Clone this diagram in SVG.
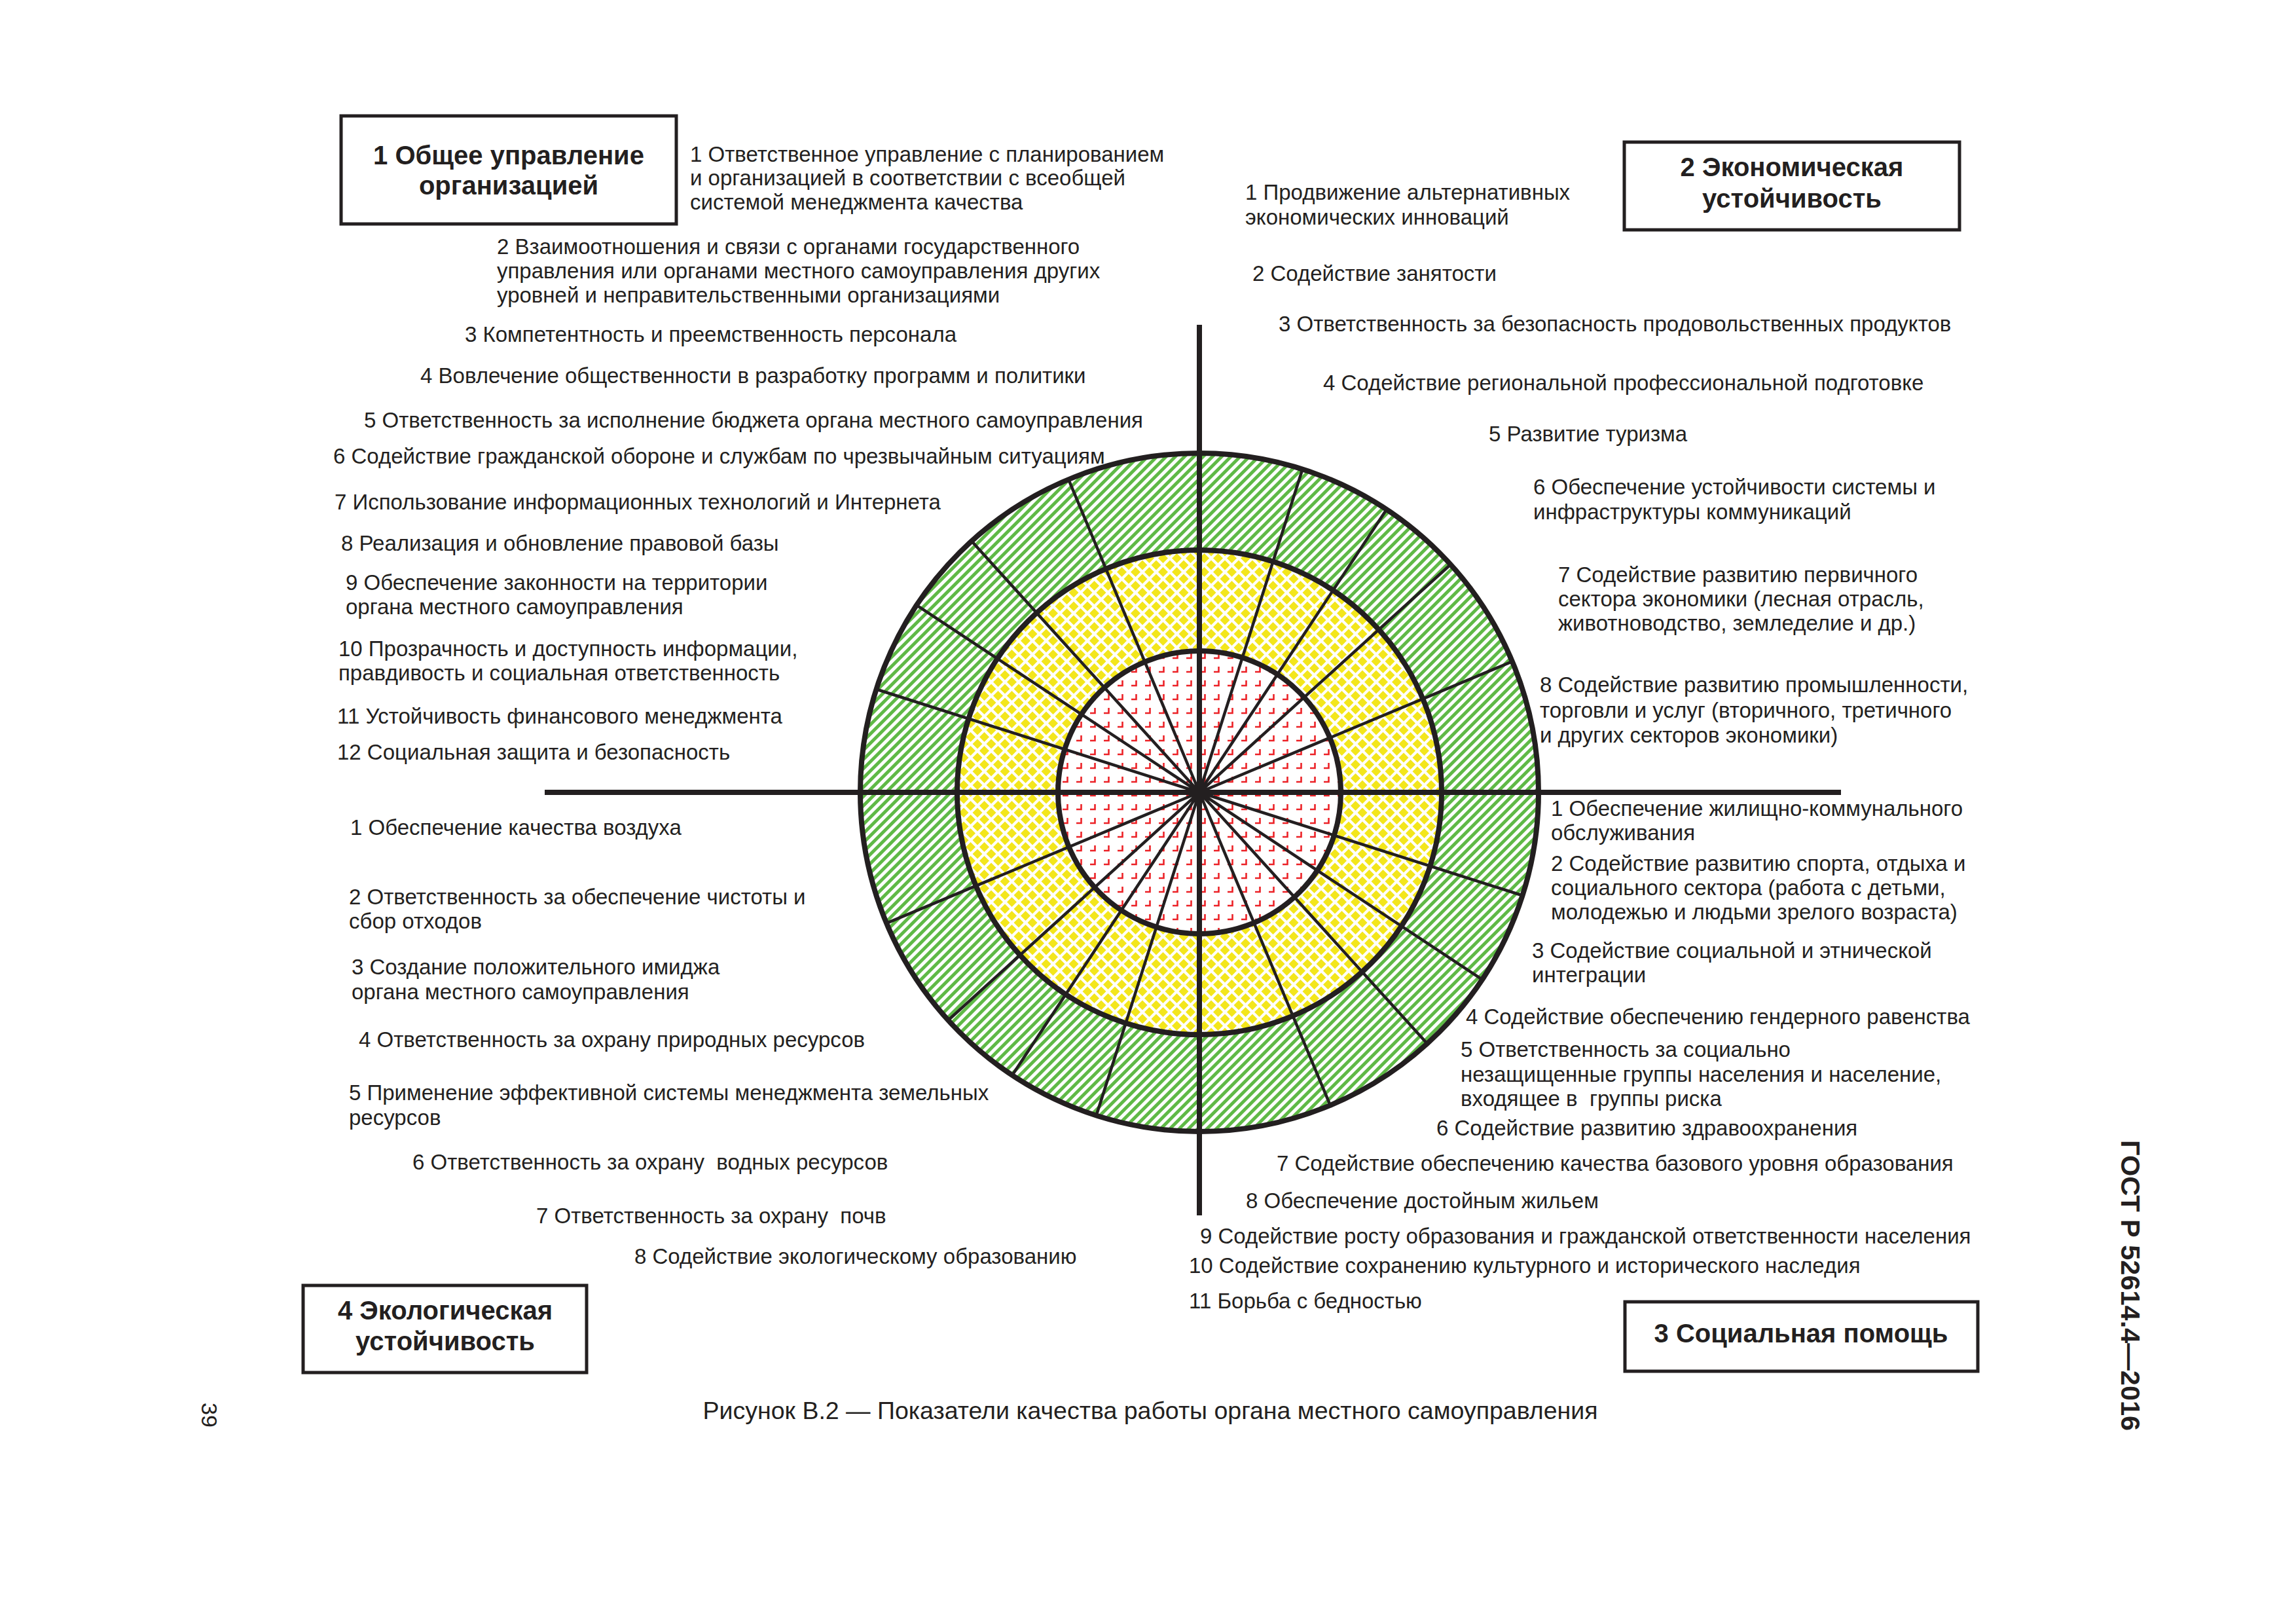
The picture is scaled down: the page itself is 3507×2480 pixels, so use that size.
<svg xmlns="http://www.w3.org/2000/svg" width="3507" height="2480" viewBox="0 0 3507 2480">
<style>
text{font-family:"Liberation Sans",Arial,sans-serif;fill:#231f20}
.t{font-size:33px}
.b{font-size:40px;font-weight:bold;text-anchor:middle}
.cap{font-size:37.5px;text-anchor:middle}
.pre{white-space:pre}
.box{fill:none;stroke:#231f20;stroke-width:5}
.ring{fill:none;stroke:#231f20;stroke-width:8}
.spoke{fill:none;stroke:#231f20;stroke-width:4.5}
.axis{fill:none;stroke:#231f20;stroke-width:8}
</style>
<defs>
<pattern id="red" width="21" height="21" patternUnits="userSpaceOnUse" x="1" y="3">
<path d="M5 15H12.5V7" fill="none" stroke="#ec2227" stroke-width="2.6"/>
</pattern>
<pattern id="yel" width="21" height="21" patternUnits="userSpaceOnUse" x="2" y="2">
<g fill="#f3e61c">
<polygon points="10.5,3 18,10.5 10.5,18 3,10.5"/>
<polygon points="0,-7.5 7.5,0 0,7.5 -7.5,0"/>
<polygon points="21,-7.5 28.5,0 21,7.5 13.5,0"/>
<polygon points="0,13.5 7.5,21 0,28.5 -7.5,21"/>
<polygon points="21,13.5 28.5,21 21,28.5 13.5,21"/>
</g>
</pattern>
<pattern id="grn" width="10" height="10" patternUnits="userSpaceOnUse" patternTransform="rotate(45)">
<rect width="5" height="10" fill="#5fb946"/>
</pattern>
</defs>
<rect width="3507" height="2480" fill="#ffffff"/>

<g id="wheel">
<circle cx="1832" cy="1210" r="518" fill="#ffffff"/>
<circle cx="1832" cy="1210" r="518" fill="url(#grn)"/>
<circle cx="1832" cy="1210" r="370" fill="#ffffff"/>
<circle cx="1832" cy="1210" r="370" fill="url(#yel)"/>
<circle cx="1832" cy="1210" r="216" fill="#ffffff"/>
<circle cx="1832" cy="1210" r="216" fill="url(#red)"/>
<path class="spoke" d="M1832 1210L2325.5 1367.5M1832 1210L2264 1495.9M1832 1210L2180 1593.7M1832 1210L2031.9 1687.9M1832 1210L1674.5 1703.5M1832 1210L1546.1 1642M1832 1210L1448.3 1558M1832 1210L1354.1 1409.9M1832 1210L1338.5 1052.5M1832 1210L1400 924.1M1832 1210L1484 826.3M1832 1210L1632.1 732.1M1832 1210L1989.5 716.5M1832 1210L2117.9 778M1832 1210L2215.7 862M1832 1210L2309.9 1010.1"/>
<circle class="ring" cx="1832" cy="1210" r="518"/>
<circle class="ring" cx="1832" cy="1210" r="370"/>
<circle class="ring" cx="1832" cy="1210" r="216"/>
</g>
<g id="connectors">
<path class="axis" d="M832 1210H2812M1832 496V1856"/>
</g>

<g id="node-1">
<rect class="box" x="521" y="177" width="512" height="165"/>
<text class="b" x="777" y="251">1 Общее управление</text>
<text class="b" x="777" y="297">организацией</text>
</g>
<g id="node-2">
<rect class="box" x="2481" y="217" width="512" height="134"/>
<text class="b" x="2737" y="269">2 Экономическая</text>
<text class="b" x="2737" y="317">устойчивость</text>
</g>
<g id="node-3">
<rect class="box" x="2482" y="1988" width="539" height="106"/>
<text class="b" x="2751" y="2050">3 Социальная помощь</text>
</g>
<g id="node-4">
<rect class="box" x="463" y="1963" width="433" height="133"/>
<text class="b" x="680" y="2015">4 Экологическая</text>
<text class="b" x="680" y="2062">устойчивость</text>
</g>

<g id="items-1">
<text class="t" x="1054" y="247">1 Ответственное управление с планированием</text>
<text class="t" x="1054" y="283">и организацией в соответствии с всеобщей</text>
<text class="t" x="1054" y="320">системой менеджмента качества</text>
<text class="t" x="759" y="388">2 Взаимоотношения и связи с органами государственного</text>
<text class="t" x="759" y="425">управления или органами местного самоуправления других</text>
<text class="t" x="759" y="462">уровней и неправительственными организациями</text>
<text class="t" x="710" y="522">3 Компетентность и преемственность персонала</text>
<text class="t" x="642" y="585">4 Вовлечение общественности в разработку программ и политики</text>
<text class="t" x="556" y="653">5 Ответственность за исполнение бюджета органа местного самоуправления</text>
<text class="t" x="509" y="708">6 Содействие гражданской обороне и службам по чрезвычайным ситуациям</text>
<text class="t" x="511" y="778">7 Использование информационных технологий и Интернета</text>
<text class="t" x="521" y="841">8 Реализация и обновление правовой базы</text>
<text class="t" x="528" y="901">9 Обеспечение законности на территории</text>
<text class="t" x="528" y="938">органа местного самоуправления</text>
<text class="t" x="517" y="1002">10 Прозрачность и доступность информации,</text>
<text class="t" x="517" y="1039">правдивость и социальная ответственность</text>
<text class="t" x="515" y="1105">11 Устойчивость финансового менеджмента</text>
<text class="t" x="515" y="1160">12 Социальная защита и безопасность</text>
</g>

<g id="items-2">
<text class="t" x="1902" y="305">1 Продвижение альтернативных</text>
<text class="t" x="1902" y="343">экономических инноваций</text>
<text class="t" x="1913" y="429">2 Содействие занятости</text>
<text class="t" x="1953" y="506">3 Ответственность за безопасность продовольственных продуктов</text>
<text class="t" x="2021" y="596">4 Содействие региональной профессиональной подготовке</text>
<text class="t" x="2274" y="674">5 Развитие туризма</text>
<text class="t" x="2342" y="755">6 Обеспечение устойчивости системы и</text>
<text class="t" x="2342" y="793">инфраструктуры коммуникаций</text>
<text class="t" x="2380" y="889">7 Содействие развитию первичного</text>
<text class="t" x="2380" y="926">сектора экономики (лесная отрасль,</text>
<text class="t" x="2380" y="963">животноводство, земледелие и др.)</text>
<text class="t" x="2352" y="1057">8 Содействие развитию промышленности,</text>
<text class="t" x="2352" y="1096">торговли и услуг (вторичного, третичного</text>
<text class="t" x="2352" y="1134">и других секторов экономики)</text>
</g>

<g id="items-3">
<text class="t" x="2369" y="1246">1 Обеспечение жилищно-коммунального</text>
<text class="t" x="2369" y="1283">обслуживания</text>
<text class="t" x="2369" y="1330">2 Содействие развитию спорта, отдыха и</text>
<text class="t" x="2369" y="1367">социального сектора (работа с детьми,</text>
<text class="t" x="2369" y="1404">молодежью и людьми зрелого возраста)</text>
<text class="t" x="2340" y="1463">3 Содействие социальной и этнической</text>
<text class="t" x="2340" y="1500">интеграции</text>
<text class="t" x="2239" y="1564">4 Содействие обеспечению гендерного равенства</text>
<text class="t" x="2231" y="1614">5 Ответственность за социально</text>
<text class="t" x="2231" y="1652">незащищенные группы населения и население,</text>
<text class="t pre" x="2231" y="1689" xml:space="preserve">входящее в  группы риска</text>
<text class="t" x="2194" y="1734">6 Содействие развитию здравоохранения</text>
<text class="t" x="1950" y="1788">7 Содействие обеспечению качества базового уровня образования</text>
<text class="t" x="1903" y="1845">8 Обеспечение достойным жильем</text>
<text class="t" x="1833" y="1899">9 Содействие росту образования и гражданской ответственности населения</text>
<text class="t" x="1816" y="1944">10 Содействие сохранению культурного и исторического наследия</text>
<text class="t" x="1816" y="1998">11 Борьба с бедностью</text>
</g>

<g id="items-4">
<text class="t" x="535" y="1275">1 Обеспечение качества воздуха</text>
<text class="t" x="533" y="1381">2 Ответственность за обеспечение чистоты и</text>
<text class="t" x="533" y="1418">сбор отходов</text>
<text class="t" x="537" y="1488">3 Создание положительного имиджа</text>
<text class="t" x="537" y="1526">органа местного самоуправления</text>
<text class="t" x="548" y="1599">4 Ответственность за охрану природных ресурсов</text>
<text class="t" x="533" y="1680">5 Применение эффективной системы менеджмента земельных</text>
<text class="t" x="533" y="1718">ресурсов</text>
<text class="t pre" x="630" y="1786" xml:space="preserve">6 Ответственность за охрану  водных ресурсов</text>
<text class="t pre" x="819" y="1868" xml:space="preserve">7 Ответственность за охрану  почв</text>
<text class="t" x="969" y="1930">8 Содействие экологическому образованию</text>
</g>

<g id="caption">
<text class="cap" x="1757" y="2167">Рисунок В.2 — Показатели качества работы органа местного самоуправления</text>
</g>
<g id="page-header">
<text transform="translate(3240,1741) rotate(90)" style="font-size:41.5px;font-weight:bold">ГОСТ Р 52614.4—2016</text>
<text transform="translate(308,2142) rotate(90)" style="font-size:34px">39</text>
</g>
</svg>
